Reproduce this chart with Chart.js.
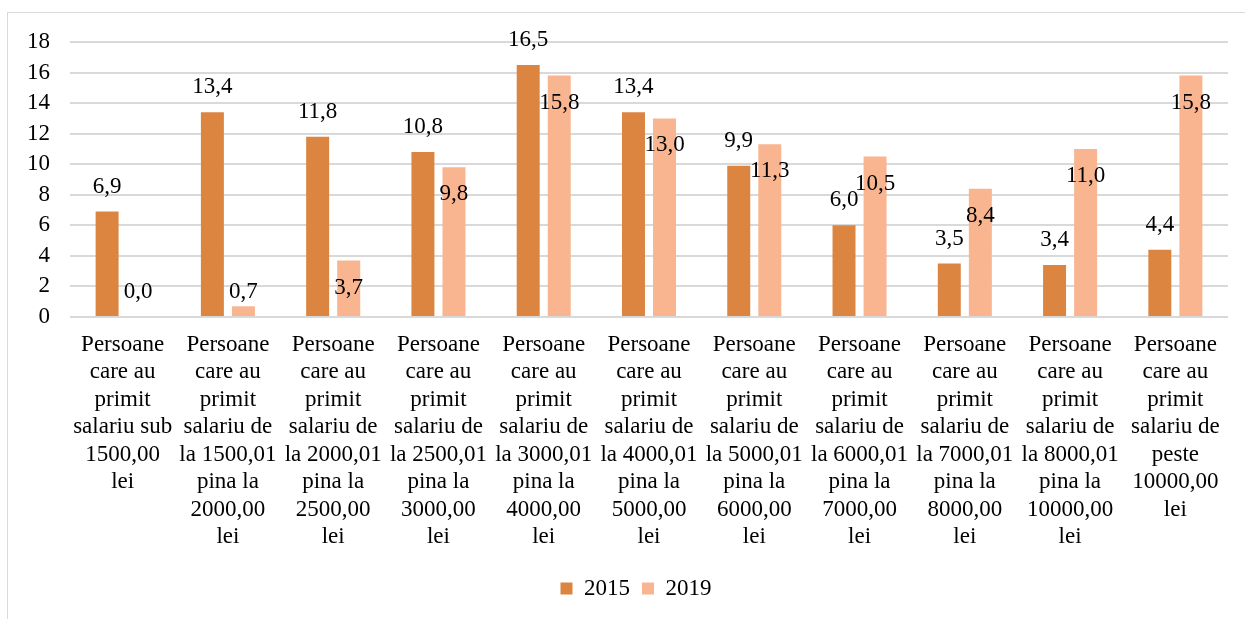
<!DOCTYPE html>
<html>
<head>
<meta charset="utf-8">
<script src="https://cdn.jsdelivr.net/npm/chart.js@4.4.1/dist/chart.umd.min.js"></script>
<style>
  html, body { margin: 0; padding: 0; background: #fff; }
  #frame {
    position: absolute; left: 7px; top: 12px;
    width: 1260px; height: 640px;
    border: 1px solid #d9d9d9; box-sizing: border-box;
  }
  #wrap { position: absolute; left: 0; top: 0; width: 1245px; height: 619px; }
</style>
</head>
<body>
<div id="frame"></div>
<div id="wrap"><canvas id="chart"></canvas></div>
<script>
// Category labels (wrapped as in the original)
const categories = [
  ['Persoane', 'care au', 'primit', 'salariu sub', '1500,00', 'lei'],
  ['Persoane', 'care au', 'primit', 'salariu de', 'la 1500,01', 'pina la', '2000,00', 'lei'],
  ['Persoane', 'care au', 'primit', 'salariu de', 'la 2000,01', 'pina la', '2500,00', 'lei'],
  ['Persoane', 'care au', 'primit', 'salariu de', 'la 2500,01', 'pina la', '3000,00', 'lei'],
  ['Persoane', 'care au', 'primit', 'salariu de', 'la 3000,01', 'pina la', '4000,00', 'lei'],
  ['Persoane', 'care au', 'primit', 'salariu de', 'la 4000,01', 'pina la', '5000,00', 'lei'],
  ['Persoane', 'care au', 'primit', 'salariu de', 'la 5000,01', 'pina la', '6000,00', 'lei'],
  ['Persoane', 'care au', 'primit', 'salariu de', 'la 6000,01', 'pina la', '7000,00', 'lei'],
  ['Persoane', 'care au', 'primit', 'salariu de', 'la 7000,01', 'pina la', '8000,00', 'lei'],
  ['Persoane', 'care au', 'primit', 'salariu de', 'la 8000,01', 'pina la', '10000,00', 'lei'],
  ['Persoane', 'care au', 'primit', 'salariu de', 'peste', '10000,00', 'lei'],
];

const values2015 = [6.9, 13.4, 11.8, 10.8, 16.5, 13.4, 9.9, 6.0, 3.5, 3.4, 4.4];
const values2019 = [0.0, 0.7, 3.7, 9.8, 15.8, 13.0, 11.3, 10.5, 8.4, 11.0, 15.8];

const seriesNames = ['2015', '2019'];
const yTicks = [0, 2, 4, 6, 8, 10, 12, 14, 16, 18];

const FONT = 'Liberation Serif, "Times New Roman", serif';

// Draws value labels like the Excel original: 2015 above the bar,
// 2019 just inside the bar top (or above it when the bar is short)
const valueLabels = {
  id: 'valueLabels',
  afterDatasetsDraw(chart) {
    const { ctx } = chart;
    const base = chart.scales.y.getPixelForValue(0);
    ctx.save();
    ctx.font = `23px ${FONT}`;
    ctx.fillStyle = '#000';
    ctx.textAlign = 'center';
    ctx.textBaseline = 'middle';
    chart.data.datasets.forEach((ds, di) => {
      chart.getDatasetMeta(di).data.forEach((bar, i) => {
        const text = ds.data[i].toFixed(1).replace('.', ',');
        let y;
        if (di === 0) {
          y = bar.y - 25;
        } else if (base - bar.y > 40) {
          y = bar.y + 27;
        } else {
          y = Math.min(bar.y - 14, base - 25);
        }
        ctx.fillText(text, bar.x, y);
      });
    });
    ctx.restore();
  },
};

// The original legend sits a little right of the canvas centre
const legendShift = {
  id: 'legendShift',
  afterLayout(chart) {
    if (chart.legend) {
      chart.legend.left += 22;
      chart.legend.right += 22;
    }
  },
};

new Chart(document.getElementById('chart'), {
  type: 'bar',
  data: {
    labels: categories,
    datasets: [
      {
        label: seriesNames[0],
        data: values2015,
        backgroundColor: '#DB8540',
        categoryPercentage: 0.59,
        barPercentage: 0.74,
      },
      {
        label: seriesNames[1],
        data: values2019,
        backgroundColor: '#F8B590',
        categoryPercentage: 0.59,
        barPercentage: 0.74,
      },
    ],
  },
  options: {
    responsive: true,
    maintainAspectRatio: false,
    animation: false,
    layout: { padding: { top: 42, right: 17, bottom: 9, left: 0 } },
    plugins: {
      tooltip: { enabled: false },
      legend: {
        position: 'bottom',
        labels: {
          font: { family: FONT, size: 23 },
          color: '#000',
          boxWidth: 12,
          boxHeight: 12,
          padding: 12,
        },
      },
    },
    scales: {
      x: {
        grid: { display: false },
        border: { display: false },
        ticks: {
          color: '#000',
          font: { family: FONT, size: 23, lineHeight: '27.5px' },
          maxRotation: 0,
          autoSkip: false,
          padding: 6,
        },
        afterFit(scale) { scale.height = 248; },
      },
      y: {
        min: 0,
        max: 18,
        afterBuildTicks(scale) { scale.ticks = yTicks.map((v) => ({ value: v })); },
        grid: { color: '#d9d9d9', lineWidth: 2, drawTicks: false },
        border: { display: false },
        ticks: {
          color: '#000',
          font: { family: FONT, size: 23 },
          padding: 20,
          autoSkip: false,
        },
        afterFit(scale) { scale.width = 70; },
      },
    },
  },
  plugins: [valueLabels, legendShift],
});
</script>
</body>
</html>
